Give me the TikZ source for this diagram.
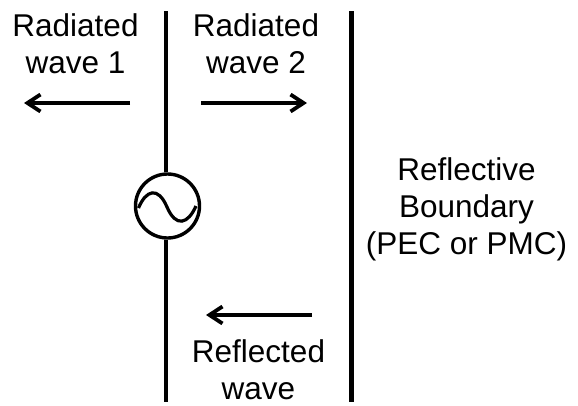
\documentclass[tikz,border=0pt]{standalone}
\usepackage{fontspec}
\setmainfont{Liberation Sans}
\usetikzlibrary{arrows.meta}
\tikzset{
  lbl/.style={font=\fontsize{31.5}{37}\selectfont,align=center,inner sep=0pt,text=black},
  wire/.style={line width=3.4pt,black},
  arr/.style={line width=3.2pt,-{Straight Barb[length=13pt,width=17pt,line width=3.8pt]}}
}
\begin{document}
\begin{tikzpicture}[x=1pt,y=-1pt]
\useasboundingbox (0,0) rectangle (578,405);
\coordinate (t1) at (166,11);
\coordinate (b1) at (166,402);
\coordinate (t2) at (351,11);
\coordinate (b2) at (351,402);
\node[circle,draw,line width=3.4pt,minimum size=64pt,inner sep=0pt] (src) at (167.5,206) {};
\draw[wire] (t1) -- (src.north -| t1);
\draw[wire] (src.south -| b1) -- (b1);
\draw[wire,line width=5pt] (t2) -- (b2);
\draw[line width=3.2pt] (138.5,208) .. controls (146,190) and (158,186) .. (167,207) .. controls (176,228) and (188,224) .. (196,206);
\node[lbl] (l1) at (75.5,43.5) {Radiated\\wave 1};
\node[lbl] (l2) at (256,43.5) {Radiated\\wave 2};
\node[lbl] (l3) at (466.5,209.5) {Reflective\\Boundary\\(PEC or PMC)};
\node[lbl] (l4) at (258.5,369.5) {Reflected\\wave};
\coordinate (a1s) at (130,103); \coordinate (a1e) at (24,103);
\coordinate (a2s) at (201,103); \coordinate (a2e) at (307,103);
\coordinate (a3s) at (312,315); \coordinate (a3e) at (206,315);
\draw[arr] (a1s) -- (a1e);
\draw[arr] (a2s) -- (a2e);
\draw[arr] (a3s) -- (a3e);
\end{tikzpicture}
\end{document}
